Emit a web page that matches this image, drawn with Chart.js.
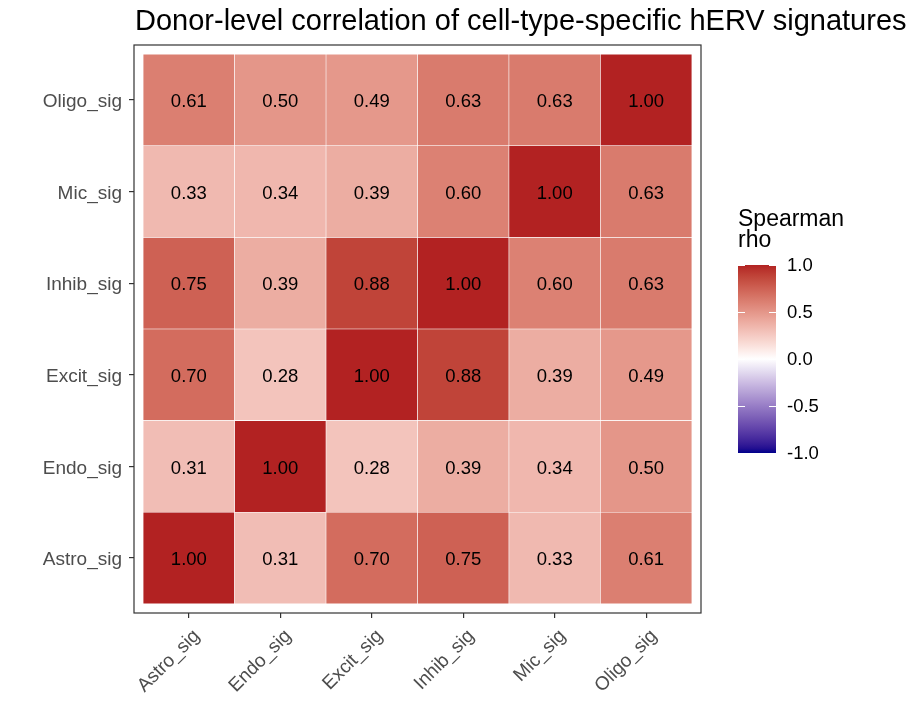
<!DOCTYPE html>
<html>
<head>
<meta charset="utf-8">
<script src="https://cdn.jsdelivr.net/npm/chart.js@4.4.1/dist/chart.umd.min.js"></script>
<style>
  body { margin: 0; background: #ffffff; }
  #heat { display: block; }
</style>
</head>
<body>
<canvas id="heat" width="912" height="703"></canvas>
<script>
// Correlazione tra firme hERV per tipo cellulare (heatmap)

const xLabels = ['Astro_sig', 'Endo_sig', 'Excit_sig', 'Inhib_sig', 'Mic_sig', 'Oligo_sig'];
const yLabels = ['Astro_sig', 'Endo_sig', 'Excit_sig', 'Inhib_sig', 'Mic_sig', 'Oligo_sig'];

// una riga per ogni firma (dal basso verso l'alto)
const rhoAstro = [1.00, 0.31, 0.70, 0.75, 0.33, 0.61];
const rhoEndo  = [0.31, 1.00, 0.28, 0.39, 0.34, 0.50];
const rhoExcit = [0.70, 0.28, 1.00, 0.88, 0.39, 0.49];
const rhoInhib = [0.75, 0.39, 0.88, 1.00, 0.60, 0.63];
const rhoMic   = [0.33, 0.34, 0.39, 0.60, 1.00, 0.63];
const rhoOligo = [0.61, 0.50, 0.49, 0.63, 0.63, 1.00];
const rhoRows = [rhoAstro, rhoEndo, rhoExcit, rhoInhib, rhoMic, rhoOligo];

const legendTicks = [1.0, 0.5, 0.0, -0.5, -1.0];
const legendTitle = ['Spearman', 'rho'];
const chartTitle = 'Donor-level correlation of cell-type-specific hERV signatures';

const FONT = "'Liberation Sans', Arial, sans-serif";

/**
 * Conversioni colore sRGB <-> Lab (come scales::colour_ramp)
 */
function hexToRgb(hex) {
    const n = parseInt(hex.slice(1), 16);
    return [(n >> 16) & 255, (n >> 8) & 255, n & 255];
}
function rgbToLab(rgb) {
    const lin = rgb.map(v => {
        v /= 255;
        return v <= 0.04045 ? v / 12.92 : Math.pow((v + 0.055) / 1.055, 2.4);
    });
    let X = (0.4124 * lin[0] + 0.3576 * lin[1] + 0.1805 * lin[2]) / 0.95047;
    let Y = (0.2126 * lin[0] + 0.7152 * lin[1] + 0.0722 * lin[2]);
    let Z = (0.0193 * lin[0] + 0.1192 * lin[1] + 0.9505 * lin[2]) / 1.08883;
    const f = t => t > 0.008856 ? Math.cbrt(t) : 7.787 * t + 16 / 116;
    const fx = f(X), fy = f(Y), fz = f(Z);
    return [116 * fy - 16, 500 * (fx - fy), 200 * (fy - fz)];
}
function labToRgb(lab) {
    const fy = (lab[0] + 16) / 116;
    const fx = fy + lab[1] / 500;
    const fz = fy - lab[2] / 200;
    const inv = t => t * t * t > 0.008856 ? t * t * t : (t - 16 / 116) / 7.787;
    const X = inv(fx) * 0.95047, Y = inv(fy), Z = inv(fz) * 1.08883;
    const r = 3.2406 * X - 1.5372 * Y - 0.4986 * Z;
    const g = -0.9689 * X + 1.8758 * Y + 0.0415 * Z;
    const b = 0.0557 * X - 0.2040 * Y + 1.0570 * Z;
    return [r, g, b].map(v => {
        v = v <= 0.0031308 ? 12.92 * v : 1.055 * Math.pow(v, 1 / 2.4) - 0.055;
        return Math.round(Math.min(1, Math.max(0, v)) * 255);
    });
}

const LOW = rgbToLab(hexToRgb('#00008B'));
const MID = rgbToLab(hexToRgb('#FFFFFF'));
const HIGH = rgbToLab(hexToRgb('#B22222'));

function fillFor(v) {
    const t = Math.min(1, Math.abs(v));
    const end = v >= 0 ? HIGH : LOW;
    const lab = MID.map((m, i) => m + (end[i] - m) * t);
    const rgb = labToRgb(lab);
    return `rgb(${rgb[0]}, ${rgb[1]}, ${rgb[2]})`;
}

/**
 * Plugin: sfondo, titolo, bordo pannello, etichette, barra colori
 */
const heatDecor = {
    id: 'heatDecor',
    beforeDraw(chart) {
        const ctx = chart.ctx;
        ctx.save();
        ctx.fillStyle = '#ffffff';
        ctx.fillRect(0, 0, chart.width, chart.height);
        ctx.restore();
    },
    afterDatasetsDraw(chart) {
        const ctx = chart.ctx;
        ctx.save();
        ctx.font = `18.5px ${FONT}`;
        ctx.fillStyle = '#000000';
        ctx.textAlign = 'center';
        ctx.textBaseline = 'middle';
        chart.data.datasets.forEach((ds, r) => {
            const meta = chart.getDatasetMeta(r);
            meta.data.forEach((bar, c) => {
                const cy = (bar.y + bar.base) / 2;
                ctx.fillText(rhoRows[r][c].toFixed(2), bar.x, cy + 2);
            });
        });
        ctx.restore();
    },
    afterDraw(chart) {
        const ctx = chart.ctx;
        const area = chart.chartArea;
        ctx.save();

        // bordo pannello
        ctx.strokeStyle = '#333333';
        ctx.lineWidth = 1.2;
        ctx.strokeRect(area.left, area.top, area.right - area.left, area.bottom - area.top);

        // titolo
        ctx.fillStyle = '#000000';
        ctx.font = `29px ${FONT}`;
        ctx.textAlign = 'left';
        ctx.textBaseline = 'alphabetic';
        ctx.fillText(chartTitle, 135, 30);

        // legenda barra colori
        const barX = 738, barW = 38, barTop = 265, barBottom = 453;
        ctx.font = `23px ${FONT}`;
        ctx.fillText(legendTitle[0], barX, 226);
        ctx.fillText(legendTitle[1], barX, 247);

        const grad = ctx.createLinearGradient(0, barTop, 0, barBottom);
        for (let i = 0; i <= 40; i++) {
            const v = 1 - i / 20;
            grad.addColorStop(i / 40, fillFor(v));
        }
        ctx.fillStyle = grad;
        ctx.fillRect(barX, barTop, barW, barBottom - barTop);

        const yOf = v => barTop + (1 - v) / 2 * (barBottom - barTop);
        ctx.strokeStyle = '#ffffff';
        ctx.lineWidth = 1;
        ctx.font = `18.5px ${FONT}`;
        ctx.fillStyle = '#000000';
        ctx.textBaseline = 'middle';
        legendTicks.forEach(v => {
            const y = Math.round(yOf(v)) + 0.5;
            ctx.beginPath();
            ctx.moveTo(barX, y); ctx.lineTo(barX + 7, y);
            ctx.moveTo(barX + barW - 7, y); ctx.lineTo(barX + barW, y);
            ctx.stroke();
            ctx.fillText(v.toFixed(1), barX + barW + 11, yOf(v) + 1);
        });
        ctx.restore();
    }
};

const datasets = yLabels.map((name, r) => ({
    label: name,
    data: xLabels.map((_, c) => ({ x: c + 0.5, y: [r, r + 1] })),
    backgroundColor: rhoRows[r].map(fillFor),
    borderColor: '#ffffff',
    borderWidth: 0.6,
    borderSkipped: false,
    barPercentage: 1,
    categoryPercentage: 1,
    grouped: false
}));

const axisTicks = {
    color: '#4D4D4D',
    font: { size: 19, family: FONT },
    autoSkip: false
};
const axisGrid = {
    display: true,
    offset: false,
    drawOnChartArea: false,
    drawTicks: true,
    tickLength: 5,
    color: '#333333',
    lineWidth: 1.2
};

new Chart(document.getElementById('heat'), {
    type: 'bar',
    data: { datasets: datasets },
    options: {
        responsive: false,
        animation: false,
        devicePixelRatio: 1,
        layout: { padding: { top: 45, right: 211, left: 0, bottom: 0 } },
        plugins: {
            legend: { display: false },
            tooltip: { enabled: false }
        },
        scales: {
            x: {
                type: 'linear',
                offset: false,
                min: -0.1,
                max: 6.1,
                grid: axisGrid,
                border: { display: false },
                ticks: Object.assign({}, axisTicks, {
                    maxRotation: 45,
                    minRotation: 45,
                    padding: 7,
                    labelOffset: 8,
                    callback: v => xLabels[Math.round(v - 0.5)]
                }),
                afterBuildTicks: scale => {
                    scale.ticks = xLabels.map((_, i) => ({ value: i + 0.5 }));
                },
                afterFit: scale => { scale.height = 90; }
            },
            y: {
                type: 'linear',
                min: -0.1,
                max: 6.1,
                grid: axisGrid,
                border: { display: false },
                ticks: Object.assign({}, axisTicks, {
                    padding: 7,
                    labelOffset: 2,
                    callback: v => yLabels[Math.round(v - 0.5)]
                }),
                afterBuildTicks: scale => {
                    scale.ticks = yLabels.map((_, i) => ({ value: i + 0.5 }));
                },
                afterFit: scale => { scale.width = 134; }
            }
        }
    },
    plugins: [heatDecor]
});
</script>
</body>
</html>
